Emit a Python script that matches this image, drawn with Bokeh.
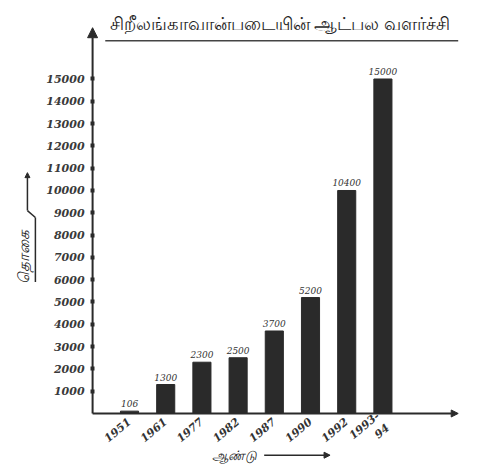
import math
from bokeh.plotting import figure
from bokeh.models import Range1d, FixedTicker, Label, Arrow, NormalHead
from bokeh.embed import file_html
from bokeh.resources import INLINE

# ---- data ----
years = ["1951", "1961", "1977", "1982", "1987", "1990", "1992", "1993-\n94"]
strength = [106, 1300, 2300, 2500, 3700, 5200, 10000, 15000]
value_labels = ["106", "1300", "2300", "2500", "3700", "5200", "10400", "15000"]
y_ticks = [1000, 2000, 3000, 4000, 5000, 6000, 7000, 8000, 9000, 10000,
           11000, 12000, 13000, 14000, 15000]
title_text = "சிறீலங்காவான்படையின் ஆட்பல வளர்ச்சி"
x_title = "ஆண்டு"
y_title = "தொகை"

xs = list(range(len(years)))
INK = "#2a2a2a"
X0 = -1.02  # where the value axis stands

p = figure(width=469, height=465, output_backend="svg", toolbar_location=None,
           x_range=Range1d(-3.564, 9.392), y_range=Range1d(-2332, 18520),
           min_border_left=0, min_border_right=0, min_border_top=0,
           min_border_bottom=0)
p.outline_line_color = None
p.grid.grid_line_color = None
p.background_fill_color = "white"

p.vbar(x=xs, top=strength, width=0.5, fill_color=INK, line_color=INK)

for x, v, t in zip(xs, strength, value_labels):
    p.add_layout(Label(x=x, y=v, text=t, text_align="center", text_baseline="bottom",
                       y_offset=4, text_font_size="9px", text_font_style="italic",
                       text_color="#333333", text_font="DejaVu Serif"))

# y axis
yax = p.yaxis[0]
yax.fixed_location = X0
yax.ticker = FixedTicker(ticks=y_ticks)
yax.axis_line_color = None
yax.major_tick_in = 2
yax.major_tick_out = 2
yax.major_tick_line_width = 4
yax.major_tick_line_color = INK
yax.minor_tick_line_color = None
yax.major_label_text_font = "DejaVu Serif"
yax.major_label_text_font_style = "bold italic"
yax.major_label_text_font_size = "11px"
yax.major_label_text_color = "#3a3a3a"
yax.major_label_standoff = 6

# x axis
xax = p.xaxis[0]
xax.fixed_location = 0
xax.ticker = FixedTicker(ticks=xs)
xax.major_label_overrides = {i: y for i, y in enumerate(years)}
xax.axis_line_color = None
xax.major_tick_line_color = None
xax.minor_tick_line_color = None
xax.major_label_orientation = math.radians(40)
xax.major_label_text_font = "DejaVu Serif"
xax.major_label_text_font_style = "bold italic"
xax.major_label_text_font_size = "11px"
xax.major_label_text_color = "#333333"
xax.major_label_standoff = 1

# axis lines with arrow heads
p.add_layout(Arrow(x_start=X0, y_start=0, x_end=X0, y_end=17300,
                   line_width=2, line_color=INK,
                   end=NormalHead(size=10, fill_color=INK, line_color=INK)))
p.add_layout(Arrow(x_start=X0, y_start=0, x_end=9.08, y_end=0,
                   line_width=2, line_color=INK,
                   end=NormalHead(size=7, fill_color=INK, line_color=INK)))

# title + underline
p.add_layout(Label(x=4.15, y=17530, text=title_text, text_align="center",
                   text_baseline="middle", text_font_size="18px",
                   text_color="#1e1e1e", text_font="Noto Sans"))
p.add_layout(Arrow(x_start=-0.67, y_start=16720, x_end=9.08, y_end=16720,
                   line_width=1.5, line_color="#444444", end=None))

# x title with arrow
p.add_layout(Label(x=2.29, y=-1870, text=x_title, text_align="left",
                   text_baseline="middle", text_font_size="13px",
                   text_font_style="italic", text_color="#222222", text_font="Noto Sans"))
p.add_layout(Arrow(x_start=3.72, y_start=-1870, x_end=5.54, y_end=-1870,
                   line_width=1.5, line_color=INK,
                   end=NormalHead(size=6, fill_color=INK, line_color=INK)))

# y title with bracket
p.add_layout(Label(x=-2.93, y=7000, text=y_title, text_align="center",
                   text_baseline="middle", angle=math.pi / 2, text_font_size="15px",
                   text_font_style="italic", text_color="#222222", text_font="Noto Sans"))
p.add_layout(Arrow(x_start=-2.82, y_start=9100, x_end=-2.82, y_end=10800,
                   line_width=1.5, line_color=INK,
                   end=NormalHead(size=5, fill_color=INK, line_color=INK)))
p.add_layout(Arrow(x_start=-2.60, y_start=5900, x_end=-2.60, y_end=8790,
                   line_width=1.5, line_color=INK, end=None))
p.add_layout(Arrow(x_start=-2.60, y_start=8790, x_end=-2.82, y_end=9100,
                   line_width=1.5, line_color=INK, end=None))

open("out.html", "w").write(file_html(p, INLINE))
